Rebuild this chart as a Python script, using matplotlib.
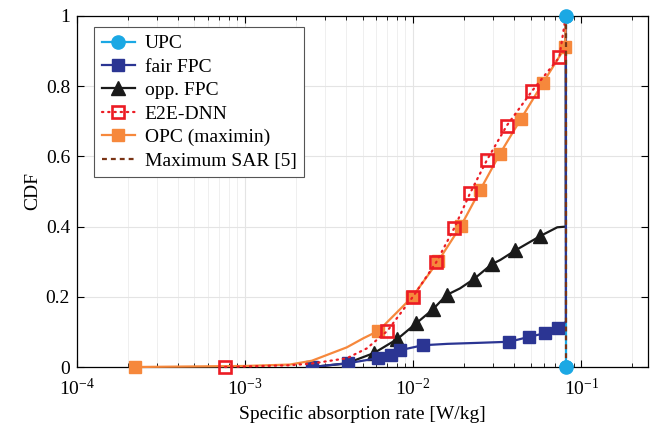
import numpy as np
import matplotlib.pyplot as plt
from matplotlib.ticker import LogLocator, FixedLocator, FuncFormatter, NullFormatter

plt.rcParams['font.family'] = ['Liberation Serif', 'DejaVu Serif']
plt.rcParams['mathtext.fontset'] = 'stix'
plt.rcParams['font.size'] = 14

# CDF curves of the specific absorption rate (W/kg) for each power control scheme
upc_x = [0.081, 0.081]
upc_y = [0.0, 1.0]

fair_x = [0.0025, 0.00412, 0.00614, 0.00736, 0.00837, 0.01142, 0.016, 0.025,
          0.0374, 0.049, 0.0605, 0.0726, 0.081, 0.081]
fair_y = [0.0, 0.011, 0.025, 0.034, 0.048, 0.062, 0.066, 0.069,
          0.072, 0.086, 0.096, 0.110, 0.129, 1.0]
fair_marks = [0, 1, 2, 3, 4, 5, 8, 9, 10, 11]

opp_x = [0.00249, 0.0040, 0.00586, 0.00807, 0.0104, 0.0131, 0.0158, 0.019,
         0.0229, 0.0294, 0.033, 0.0405, 0.057, 0.072, 0.081, 0.081]
opp_y = [0.0, 0.010, 0.040, 0.080, 0.124, 0.164, 0.205, 0.224,
         0.250, 0.293, 0.305, 0.332, 0.373, 0.398, 0.400, 1.0]
opp_marks = [0, 2, 3, 4, 5, 6, 8, 9, 11, 12]

e2e_x = [7.6e-4, 0.00185, 0.0025, 0.00403, 0.0053, 0.00703, 0.00996, 0.0137,
         0.01753, 0.0218, 0.0275, 0.0361, 0.0511, 0.074, 0.081]
e2e_y = [0.0, 0.005, 0.010, 0.025, 0.053, 0.103, 0.200, 0.298,
         0.395, 0.495, 0.590, 0.688, 0.787, 0.882, 1.0]
e2e_marks = [0, 5, 6, 7, 8, 9, 10, 11, 12, 13]

opc_x = [2.2e-4, 1e-3, 0.00185, 0.0025, 0.00403, 0.00506, 0.00622, 0.0099,
         0.01415, 0.0193, 0.0251, 0.0327, 0.0438, 0.0591, 0.0803, 0.081]
opc_y = [0.0, 0.003, 0.007, 0.018, 0.056, 0.082, 0.103, 0.200,
         0.303, 0.403, 0.505, 0.606, 0.707, 0.809, 0.911, 1.0]
opc_marks = [0, 6, 7, 8, 9, 10, 11, 12, 13, 14]

sar_x = [0.081, 0.081]
sar_y = [0.0, 1.0]

c_upc = '#1ba8e4'
c_fair = '#2b3593'
c_opp = '#1a1a1a'
c_e2e = '#ec1c24'
c_opc = '#f6883c'
c_sar = '#7a3415'

fig = plt.figure(figsize=(6.54, 4.24), dpi=100)
ax = fig.add_axes([0.1177, 0.1344, 0.8733, 0.8279])

lw = 1.6
ms = 9.5

l_upc, = ax.plot(upc_x, upc_y, color=c_upc, lw=lw, marker='o', ms=ms, zorder=2)
# the circles sit on top of the other vertical lines
ax.plot(upc_x, upc_y, color=c_upc, ls='none', marker='o', ms=ms, zorder=8, clip_on=False)

l_opp, = ax.plot(opp_x, opp_y, color=c_opp, lw=lw, marker='^', ms=ms,
                 markevery=opp_marks, zorder=3)
l_fair, = ax.plot(fair_x, fair_y, color=c_fair, lw=lw, marker='s', ms=ms - 0.5,
                  markevery=fair_marks, zorder=4)
l_opc, = ax.plot(opc_x, opc_y, color=c_opc, lw=lw, marker='s', ms=ms - 0.5,
                 markevery=opc_marks, zorder=5, clip_on=False)
l_e2e, = ax.plot(e2e_x, e2e_y, color=c_e2e, lw=lw, ls=(0, (0.6, 2.2)),
                 dash_capstyle='round', marker='s', ms=ms - 1, mfc='none', mec=c_e2e,
                 mew=1.9, markevery=e2e_marks, zorder=6, clip_on=False)
l_sar, = ax.plot(sar_x, sar_y, color=c_sar, lw=lw, ls=(0, (2.2, 1.8)), zorder=7)

ax.set_xscale('log')
ax.set_xlim(1e-4, 0.25)
ax.set_ylim(0, 1)

ax.xaxis.set_major_locator(LogLocator(base=10, numticks=10))
ax.xaxis.set_minor_locator(LogLocator(base=10, subs=np.arange(2, 10), numticks=20))
ax.xaxis.set_minor_formatter(NullFormatter())
ax.yaxis.set_major_locator(FixedLocator([0, 0.2, 0.4, 0.6, 0.8, 1.0]))
ax.yaxis.set_major_formatter(FuncFormatter(lambda v, p: '%g' % v))

ax.grid(True, which='major', color='#e4e4e4', lw=0.8)
ax.grid(True, which='minor', axis='x', color='#ececec', lw=0.6)
ax.set_axisbelow(True)

ax.tick_params(which='both', direction='in', top=True, right=True, labelsize=14)
ax.tick_params(which='major', length=5, width=0.8, pad=5)
ax.tick_params(which='minor', length=3, width=0.6)
ax.tick_params(axis='x', which='major', pad=8)
for s in ax.spines.values():
    s.set_linewidth(0.9)

ax.set_xlabel('Specific absorption rate [W/kg]', fontsize=14, labelpad=4)
ax.set_ylabel('CDF', fontsize=14, labelpad=3)

leg = ax.legend([l_upc, l_fair, l_opp, l_e2e, l_opc, l_sar],
                ['UPC', 'fair FPC', 'opp. FPC', 'E2E-DNN', 'OPC (maximin)', 'Maximum SAR [5]'],
                loc='upper left', bbox_to_anchor=(0.0298, 0.9687), borderaxespad=0,
                fontsize=14, handlelength=1.7, handletextpad=0.5, labelspacing=0.3,
                borderpad=0.4, fancybox=False, framealpha=1, edgecolor='#555555')
leg.get_frame().set_linewidth(0.8)
leg.set_zorder(10)

fig.savefig('out.png', dpi=100)
